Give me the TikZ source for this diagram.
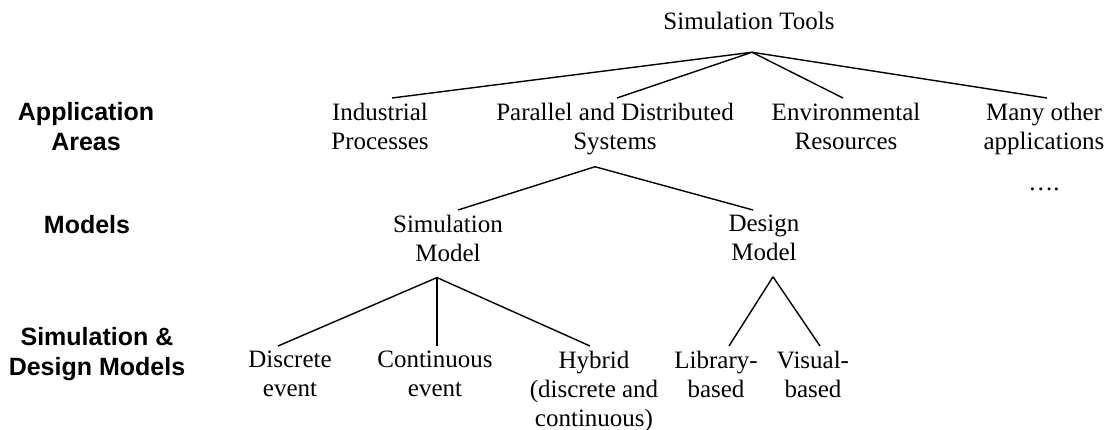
\documentclass[tikz,border=0pt]{standalone}
\usepackage{fontspec}
\setmainfont{Liberation Serif}
\newfontfamily\areafont{Liberation Sans}

\begin{document}
\begin{tikzpicture}[x=1pt,y=-1pt,
    box/.style={align=center,inner xsep=2pt,inner ysep=5pt,outer sep=0pt,font=\fontsize{25}{29}\selectfont},
    level/.style={align=center,inner xsep=2pt,inner ysep=5pt,outer sep=0pt,font=\areafont\bfseries\fontsize{25}{30}\selectfont},
    edge/.style={line width=1.4pt}]
    \useasboundingbox (0,0) rectangle (1110,430);
    \node[level,anchor=north] (areas) at (86,97) {Application\\Areas};
    \node[level,anchor=north] (models) at (87,210) {Models};
    \node[level,anchor=north] (simdes) at (97,322) {Simulation \&\\Design Models};
    \node[box,anchor=base] (tools) at (749,30) {Simulation Tools};
    \node[box,anchor=north] (indus) at (380,98) {Industrial\\Processes};
    \node[box,anchor=north] (pds) at (615,98) {Parallel and Distributed\\Systems};
    \node[box,anchor=north] (envres) at (846,98) {Environmental\\Resources};
    \node[box,anchor=north] (other) at (1044,98) {Many other\\applications\\[12pt]\dots.};
    \node[box,anchor=north] (simmod) at (448,210) {Simulation\\Model};
    \node[box,anchor=north] (desmod) at (764,210) {Design\\Model};
    \node[box,anchor=north] (discr) at (290,346) {Discrete\\event};
    \node[box,anchor=north] (contin) at (435,346) {Continuous\\event};
    \node[box,anchor=north] (hybrid) at (594,346) {Hybrid\\(discrete and\\continuous)};
    \node[box,anchor=north] (libbased) at (716,346) {Library-\\based};
    \node[box,anchor=north] (visbased) at (813,346) {Visual-\\based};
    \draw[edge] ([shift={(3pt,-17pt)}]tools.south) -- ([xshift=12pt]indus.north);
    \draw[edge] ([shift={(3pt,-17pt)}]tools.south) -- ([xshift=2pt]pds.north);
    \draw[edge] ([shift={(3pt,-17pt)}]tools.south) -- ([xshift=-3pt]envres.north);
    \draw[edge] ([shift={(3pt,-17pt)}]tools.south) -- ([xshift=3pt]other.north);
    \draw[edge] ([shift={(-20pt,-7pt)}]pds.south) -- ([xshift=10pt]simmod.north);
    \draw[edge] ([shift={(-20pt,-7pt)}]pds.south) -- ([xshift=-11pt]desmod.north);
    \draw[edge] ([shift={(-11pt,-11pt)}]simmod.south) -- ([xshift=-12pt]discr.north);
    \draw[edge] ([shift={(-11pt,-11pt)}]simmod.south) -- ([xshift=2pt]contin.north);
    \draw[edge] ([shift={(-11pt,-11pt)}]simmod.south) -- ([xshift=-4pt]hybrid.north);
    \draw[edge] ([shift={(9pt,-11pt)}]desmod.south) -- ([xshift=13pt]libbased.north);
    \draw[edge] ([shift={(9pt,-11pt)}]desmod.south) -- ([xshift=7pt]visbased.north);
\end{tikzpicture}
\end{document}
